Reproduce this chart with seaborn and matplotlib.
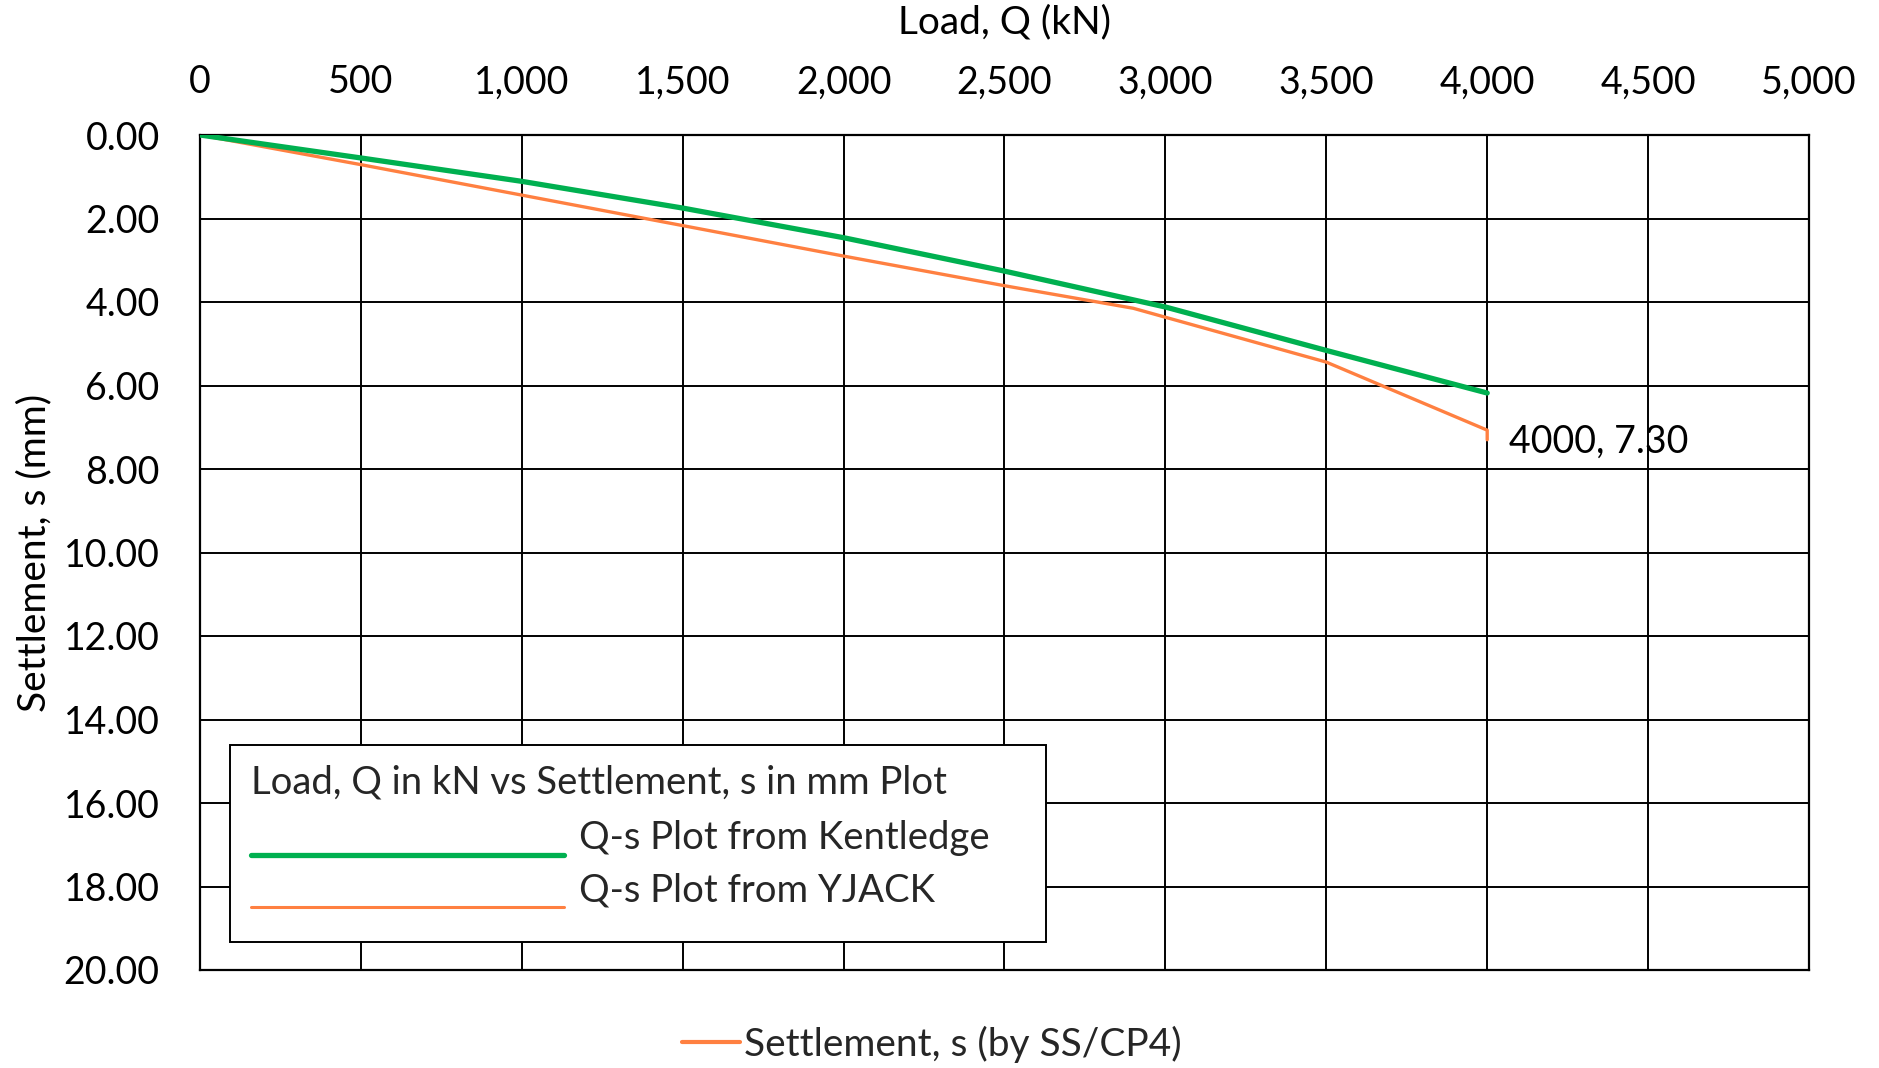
import matplotlib
matplotlib.use("Agg")
import matplotlib.pyplot as plt
import matplotlib.ticker as mticker
from matplotlib.lines import Line2D
from matplotlib.patches import Rectangle
from matplotlib.legend_handler import HandlerLine2D
import numpy as np
import seaborn as sns
import pandas as pd

# ---- data ----
kent_load = [0, 500, 1000, 1500, 2000, 2500, 3000, 3500, 4000]
kent_settle = [0.00, 0.55, 1.11, 1.75, 2.46, 3.26, 4.12, 5.16, 6.18]

yjack_load = [0, 500, 1000, 1500, 2000, 2500, 2900, 3500, 4000, 4000]
yjack_settle = [0.00, 0.71, 1.44, 2.17, 2.90, 3.61, 4.15, 5.44, 7.07, 7.30]

x_ticks = [0, 500, 1000, 1500, 2000, 2500, 3000, 3500, 4000, 4500, 5000]
y_ticks = [0, 2, 4, 6, 8, 10, 12, 14, 16, 18, 20]

series_names = ["Q-s Plot from Kentledge", "Q-s Plot from YJACK"]
legend_title = "Load, Q in kN vs Settlement, s in mm Plot"
bottom_legend_label = "Settlement, s (by SS/CP4)"
annot_text = "4000, 7.30"

GREEN = "#00B050"
ORANGE = "#FF8041"

sns.set_theme(style="white")
plt.rcParams["font.family"] = ["Lato", "DejaVu Sans"]
FS_TICK = 27
FS_LABEL = 28
FS_LEG = 27.5


class LowLine(HandlerLine2D):
    """Legend line drawn at the text baseline (Excel style)."""
    def create_artists(self, legend, orig_handle, xdescent, ydescent,
                       width, height, fontsize, trans):
        arts = super().create_artists(legend, orig_handle, xdescent, ydescent,
                                      width, height, fontsize, trans)
        for a in arts:
            if isinstance(a, Line2D):
                a.set_ydata(np.asarray(a.get_ydata()) - 0.72 * height)
        return arts


df_k = pd.DataFrame({"load": kent_load, "settle": kent_settle})
df_y = pd.DataFrame({"load": yjack_load, "settle": yjack_settle})

fig = plt.figure(figsize=(18.79, 10.68), dpi=100)
ax = fig.add_axes([200 / 1879, 1 - 970 / 1068, 1609 / 1879, 835 / 1068])

sns.lineplot(data=df_y, x="load", y="settle", sort=False, estimator=None,
             color=ORANGE, linewidth=2.4, ax=ax, zorder=3)
sns.lineplot(data=df_k, x="load", y="settle", sort=False, estimator=None,
             color=GREEN, linewidth=3.8, ax=ax, zorder=4)

ax.set_xlim(0, 5000)
ax.set_ylim(20, 0)
ax.set_xticks(x_ticks)
ax.set_yticks(y_ticks)
ax.xaxis.set_major_formatter(mticker.FuncFormatter(lambda v, p: f"{int(v):,}"))
ax.yaxis.set_major_formatter(mticker.FormatStrFormatter("%.2f"))
ax.xaxis.tick_top()
ax.xaxis.set_label_position("top")
ax.tick_params(axis="x", length=0, pad=25, labelsize=FS_TICK, colors="black")
ax.tick_params(axis="y", length=0, pad=29, labelsize=FS_TICK, colors="black")
ax.set_xlabel("Load, Q (kN)", fontsize=FS_LABEL, labelpad=22, color="black")
ax.set_ylabel("Settlement, s (mm)", fontsize=FS_LABEL, labelpad=8, color="black")

ax.grid(True, color="black", linewidth=1.4)
ax.set_axisbelow(True)
for sp in ax.spines.values():
    sp.set_color("black")
    sp.set_linewidth(1.6)

ax.annotate(annot_text, xy=(yjack_load[-1], yjack_settle[-1]), xytext=(22, -2),
            textcoords="offset pixels", fontsize=FS_TICK, va="center", ha="left",
            color="black", zorder=5)

# legend box (frame) and its contents
box = Rectangle((0.0186, 0.0335), 0.5258 - 0.0186, 0.2695 - 0.0335,
                transform=ax.transAxes, facecolor="white", edgecolor="black",
                linewidth=1.4, zorder=9)
ax.add_patch(box)

handles = [Line2D([0], [0], color=GREEN, lw=3.8),
           Line2D([0], [0], color=ORANGE, lw=2.2)]
leg = ax.legend(handles, series_names, title=legend_title, loc="upper left",
                bbox_to_anchor=(0.0317, 0.2458), borderaxespad=0, borderpad=0,
                fontsize=FS_LEG, title_fontsize=FS_LEG, handlelength=8.2,
                handletextpad=0.38, labelspacing=0.42, frameon=False,
                alignment="left", handler_map={Line2D: LowLine()})
leg._legend_box.sep = 14
leg.set_zorder(10)

fig.legend([Line2D([0], [0], color=ORANGE, lw=3)], [bottom_legend_label],
           loc="center", bbox_to_anchor=(932 / 1879, 1 - 1044 / 1068),
           frameon=False, fontsize=FS_LABEL, handlelength=1.5, handletextpad=0.1)

fig.savefig("out.png", dpi=100, facecolor="white")
